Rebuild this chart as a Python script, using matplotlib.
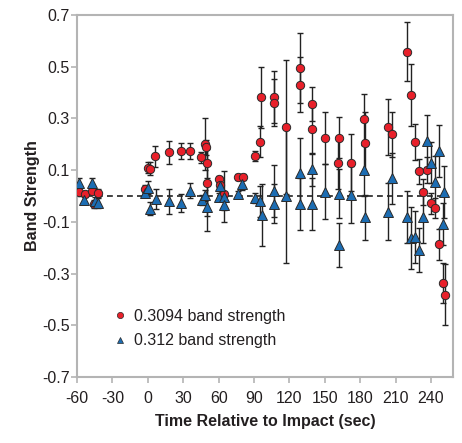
import matplotlib
matplotlib.use("Agg")
import matplotlib.pyplot as plt
from matplotlib.lines import Line2D

plt.rcParams['font.family'] = ['Liberation Sans', 'DejaVu Sans']
plt.rcParams['axes.unicode_minus'] = False

# 0.3094 band (red circles)
red_t = [-58.6, -53.6, -47.3, -45.3, -42.5, -2.4, -0.2, 2.1, 6.4, 18.0, 28.4, 35.4,
         45.3, 48.1, 49.2, 50.4, 50.4, 60.2, 60.9, 64.4, 76.1, 80.3, 91.1, 95.3,
         96.2, 106.6, 106.6, 117.4, 128.7, 128.7, 139.4, 139.2, 150.2, 161.7, 161.2,
         171.9, 183.5, 184.3, 203.2, 206.6, 219.9, 223.3, 226.7, 229.5, 233.2, 236.9,
         239.7, 243.1, 246.8, 249.8, 251.5]
red_y = [0.015, 0.009, 0.021, -0.030, 0.011, 0.028, 0.110, 0.106, 0.154, 0.169, 0.174, 0.174,
         0.149, 0.200, 0.188, 0.129, 0.051, 0.064, 0.043, 0.006, 0.073, 0.073, 0.154, 0.209,
         0.381, 0.384, 0.361, 0.267, 0.495, 0.431, 0.356, 0.260, 0.223, 0.226, 0.129,
         0.129, 0.297, 0.205, 0.267, 0.238, 0.558, 0.390, 0.209, 0.095, 0.016, 0.102,
         -0.028, -0.047, -0.186, -0.337, -0.381]
red_err = [0.015, 0.012, 0.015, 0.015, 0.015, 0.015, 0.02, 0.025, 0.04, 0.045, 0.032, 0.031,
           0.02, 0.10, 0.03, 0.06, 0.13, 0.012, 0.03, 0.01, 0.012, 0.012, 0.02, 0.06,
           0.118, 0.10, 0.09, 0.26, 0.136, 0.105, 0.065, 0.096, 0.10, 0.08, 0.10,
           0.109, 0.098, 0.12, 0.11, 0.086, 0.114, 0.12, 0.07, 0.05, 0.05, 0.05,
           0.04, 0.04, 0.06, 0.078, 0.117]

# 0.312 band (blue triangles)
blue_t = [-58.6, -53.9, -47.3, -44.5, -42.2, -2.4, -0.2, 2.1, 7.0, 18.0, 28.4, 35.4,
          45.9, 48.1, 50.4, 60.3, 61.2, 64.8, 64.8, 76.1, 80.1, 91.1, 95.3, 96.4,
          106.6, 107.2, 117.4, 128.7, 128.7, 139.4, 139.2, 149.8, 161.7, 161.7, 171.9,
          183.5, 183.8, 203.2, 207.0, 219.7, 223.3, 226.5, 229.5, 232.9, 236.9, 240.0,
          243.1, 246.5, 249.8, 251.3]
blue_y = [0.051, -0.014, 0.051, -0.018, -0.028, 0.011, 0.032, -0.050, -0.011, -0.021, -0.026, 0.021,
          -0.015, 0.002, -0.044, -0.005, 0.038, -0.002, -0.034, 0.006, 0.045, -0.007, -0.020, -0.072,
          0.019, -0.030, 0.0, 0.089, -0.030, 0.103, -0.030, 0.017, 0.009, -0.189, 0.005,
          0.099, -0.082, -0.060, 0.068, -0.082, -0.163, -0.158, -0.207, -0.082, 0.213, 0.129,
          0.054, 0.174, -0.108, 0.015]
blue_err = [0.018, 0.015, 0.018, 0.015, 0.02, 0.015, 0.025, 0.025, 0.038, 0.048, 0.035, 0.03,
            0.02, 0.02, 0.09, 0.015, 0.015, 0.10, 0.02, 0.015, 0.02, 0.02, 0.06, 0.12,
            0.10, 0.075, 0.26, 0.137, 0.10, 0.064, 0.10, 0.105, 0.094, 0.084, 0.11,
            0.10, 0.087, 0.11, 0.10, 0.10, 0.12, 0.10, 0.085, 0.10, 0.10, 0.08,
            0.10, 0.10, 0.08, 0.10]

x_ticks = list(range(-60, 241, 30))
y_ticks = [-0.7, -0.5, -0.3, -0.1, 0.1, 0.3, 0.5, 0.7]

red_col = '#e8202a'
blue_col = '#1c6db3'
edge_col = '#2a2a2a'
text_col = '#231f20'
spine_col = '#b4b4b4'

fig = plt.figure(figsize=(4.62, 4.43), dpi=100)
ax = fig.add_axes([0.1667, 0.149, 0.8138, 0.8171])

# zero reference line
ax.axhline(0, xmin=0, xmax=0.985, color='#222222', linestyle=(0, (3.5, 2.5)), linewidth=1.2, zorder=1)

ax.errorbar(red_t, red_y, yerr=red_err, fmt='none', ecolor='#222222', elinewidth=1.0,
            capsize=2.5, capthick=1.0, zorder=2)
ax.errorbar(blue_t, blue_y, yerr=blue_err, fmt='none', ecolor='#222222', elinewidth=1.0,
            capsize=2.5, capthick=1.0, zorder=2)
ax.plot(red_t, red_y, 'o', color=red_col, markeredgecolor=edge_col, markeredgewidth=0.7,
        markersize=6, linestyle='none', zorder=3)
ax.plot(blue_t, blue_y, '^', color=blue_col, markeredgecolor=edge_col, markeredgewidth=0.7,
        markersize=7, linestyle='none', zorder=4)

ax.set_xlim(-60, 258.6)
ax.set_ylim(-0.7, 0.7)
ax.set_xticks(x_ticks)
ax.set_yticks(y_ticks)
ax.set_yticklabels([f'{v:.1f}' for v in y_ticks])

for s in ax.spines.values():
    s.set_color(spine_col)
    s.set_linewidth(1.5)
ax.tick_params(axis='both', colors=spine_col, length=4, width=1.2, labelsize=11.5,
               labelcolor=text_col)
ax.tick_params(axis='x', pad=6)
ax.tick_params(axis='y', pad=1)

ax.set_xlabel('Time Relative to Impact (sec)', fontsize=11.5, fontweight='bold',
              color=text_col, labelpad=6)
ax.set_ylabel('Band Strength', fontsize=11.5, fontweight='bold', color=text_col, labelpad=2)

handles = [
    Line2D([], [], marker='o', linestyle='none', color=red_col, markeredgecolor=edge_col,
           markeredgewidth=0.5, markersize=4.5),
    Line2D([], [], marker='^', linestyle='none', color=blue_col, markeredgecolor=edge_col,
           markeredgewidth=0.5, markersize=5),
]
ax.legend(handles, ['0.3094 band strength', '0.312 band strength'], loc='lower left',
          bbox_to_anchor=(0.05, 0.04), frameon=False, fontsize=11.5, handletextpad=0.3,
          labelspacing=0.6, handlelength=1.2, labelcolor=text_col)

fig.savefig('out.png', dpi=100)
